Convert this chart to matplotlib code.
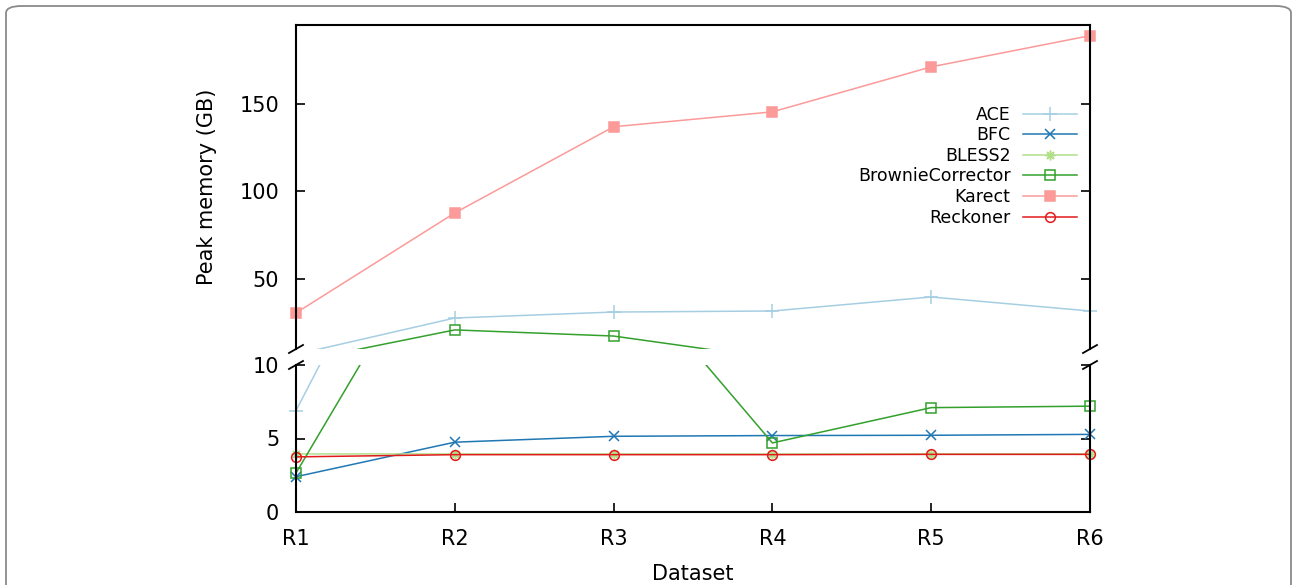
import matplotlib
matplotlib.use('Agg')
import matplotlib.pyplot as plt
from matplotlib.lines import Line2D
from matplotlib.patches import FancyBboxPatch
import numpy as np

# datos
datasets = ['R1', 'R2', 'R3', 'R4', 'R5', 'R6']
ace = [6.9, 27.7, 31.1, 31.7, 39.7, 31.7]
bfc = [2.4, 4.75, 5.15, 5.2, 5.22, 5.28]
bless2 = [3.95, 3.95, 3.95, 3.95, 3.96, 3.96]
brownie = [2.65, 20.9, 17.4, 4.7, 7.1, 7.2]
karect = [30.6, 87.7, 136.9, 145.4, 171.1, 188.9]
reckoner = [3.75, 3.9, 3.9, 3.9, 3.92, 3.92]

series = [
    ('ACE', ace, '#a6cee3', '+', 10, True),
    ('BFC', bfc, '#1f78b4', 'x', 7, True),
    ('BLESS2', bless2, '#b2df8a', (8, 2, 0), 7, True),
    ('BrownieCorrector', brownie, '#33a02c', 's', 6.5, False),
    ('Karect', karect, '#fb9a99', 's', 7, True),
    ('Reckoner', reckoner, '#e31a1c', 'o', 7, False),
]

corte = 10  # valor donde se parte el eje

plt.rcParams['font.family'] = 'DejaVu Sans'
fig = plt.figure(figsize=(12.92, 5.85), dpi=100)

# marco redondeado
frame = FancyBboxPatch((6 / 1292, -0.1), 1285 / 1292, 1.1 - 6 / 585,
                       boxstyle='round,pad=0,rounding_size=0.012',
                       transform=fig.transFigure, facecolor='none',
                       edgecolor='#8a8a8a', linewidth=1.3)
fig.patches.append(frame)

left, width = 296 / 1292, 794 / 1292
ax_top = fig.add_axes([left, 1 - 349 / 585, width, 324 / 585])
ax_bot = fig.add_axes([left, 1 - 512 / 585, width, 147 / 585])

x = np.arange(len(datasets))
handles = []
for name, vals, color, marker, ms, filled in series:
    vals = np.array(vals)
    mfc = color if filled else 'none'
    for ax in (ax_top, ax_bot):
        ax.plot(x, vals, color=color, lw=1.1)
    arriba = vals >= corte
    ax_top.plot(x[arriba], vals[arriba], ls='none', marker=marker, markersize=ms,
                mew=1.1, mec=color, mfc=mfc, clip_on=False)
    ax_bot.plot(x[~arriba], vals[~arriba], ls='none', marker=marker, markersize=ms,
                mew=1.1, mec=color, mfc=mfc, clip_on=False)
    handles.append(Line2D([], [], color=color, lw=1.1, marker=marker,
                          markersize=ms, mew=1.1, mec=color, mfc=mfc, label=name))

ax_top.set_ylim(corte, 195)
ax_bot.set_ylim(0, corte)
for ax in (ax_top, ax_bot):
    ax.set_xlim(0, len(datasets) - 1)
    for s in ax.spines.values():
        s.set_linewidth(1.5)
    ax.tick_params(direction='in', length=6.5, width=1.2, labelsize=15,
                   pad=12, right=True)

ax_top.spines['bottom'].set_visible(False)
ax_bot.spines['top'].set_visible(False)
ax_top.set_yticks([50, 100, 150])
ax_top.tick_params(axis='x', bottom=False, labelbottom=False)
ax_bot.set_yticks([0, 5, 10])
ax_bot.set_xticks(x)
ax_bot.set_xticklabels(datasets)
ax_bot.tick_params(axis='x', top=False)

ax_bot.set_xlabel('Dataset', fontsize=15, labelpad=11)
ax_top.set_ylabel('Peak memory (GB)', fontsize=15, labelpad=16)

# marcas del corte del eje
dx, dy = 7 / 794, 4 / 324
dy2 = 4 / 147
for xa in (0, 1):
    ax_top.plot([xa - dx, xa + dx], [-dy, dy], transform=ax_top.transAxes,
                color='k', lw=1.3, clip_on=False)
    ax_bot.plot([xa - dx, xa + dx], [1 - dy2, 1 + dy2], transform=ax_bot.transAxes,
                color='k', lw=1.3, clip_on=False)

ax_top.legend(handles=handles, loc='upper right', bbox_to_anchor=(0.984, 0.751),
              frameon=False, markerfirst=False, fontsize=12.5, handlelength=3.1,
              handletextpad=0.75, labelspacing=0.15, borderpad=0,
              borderaxespad=0)

fig.savefig('out.png', dpi=100)
